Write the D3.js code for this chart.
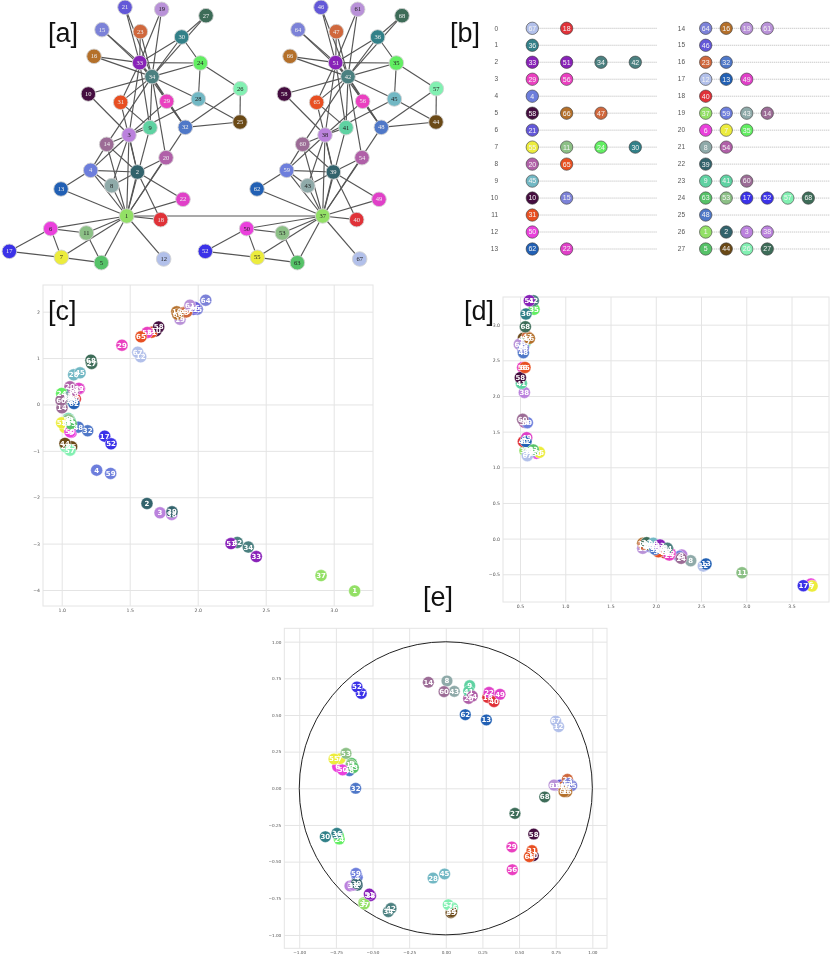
<!DOCTYPE html>
<html><head><meta charset="utf-8">
<style>html,body{margin:0;padding:0;background:#fff}svg{display:block}</style>
<script src="https://d3js.org/d3.v7.min.js"></script></head>
<body><svg id="c" width="830" height="959" xmlns="http://www.w3.org/2000/svg"></svg>
<script>
// node colours (twin ids share the colour of their partner)
const nodeColors={1:"#93e066",2:"#33636c",3:"#bb82dd",4:"#6d7edc",5:"#57c268",6:"#ea40dc",7:"#ecec3c",8:"#8faaa9",9:"#5fd2a2",10:"#45103f",11:"#8cc086",12:"#b2c0ea",13:"#2060b4",14:"#9c6c96",15:"#7c82d8",16:"#b4702c",17:"#3a30e8",18:"#e03038",19:"#b992d8",20:"#b060a8",21:"#6458d8",22:"#e040c8",23:"#d0683c",24:"#62ee62",25:"#6a4818",26:"#82f0b2",27:"#3c6c58",28:"#72b8c4",29:"#ea40c0",30:"#308088",31:"#e85020",32:"#5078c8",33:"#8820b8",34:"#4c8080"};
const twinIds={1:37,2:39,3:38,4:59,5:63,6:50,7:55,8:43,9:41,10:58,11:53,12:67,13:62,14:60,15:64,16:66,17:52,18:40,19:61,20:54,21:46,22:49,23:47,24:35,25:44,26:57,27:68,28:45,29:56,30:36,31:65,32:48,33:51,34:42};
// panel [a] layout positions
const netNodes=[[1,380,648],[2,412,516],[3,387,405],[4,272,511],[5,304,788],[6,152,686],[7,184,772],[8,335,557],[9,450,383],[10,265,282],[11,259,699],[12,491,777],[13,183,567],[14,320,433],[15,306,89],[16,282,169],[17,28,754],[18,482,659],[19,485,28],[20,498,473],[21,375,22],[22,549,598],[23,421,95],[24,601,189],[25,720,366],[26,721,266],[27,618,47],[28,595,297],[29,500,304],[30,545,111],[31,362,307],[32,556,382],[33,419,188],[34,456,230]];
const netTwinShift=588;
const netEdges=[[2,1],[3,1],[3,2],[4,1],[4,2],[4,3],[5,1],[6,1],[7,1],[7,5],[7,6],[8,1],[8,2],[8,3],[8,4],[9,1],[9,3],[10,3],[11,1],[11,5],[11,6],[12,1],[13,1],[13,4],[14,1],[14,2],[14,3],[14,4],[17,6],[17,7],[18,1],[18,2],[20,1],[20,2],[22,1],[22,2],[26,24],[26,25],[28,3],[28,24],[28,25],[29,3],[30,24],[30,27],[31,2],[31,9],[32,1],[32,25],[32,26],[32,29],[33,3],[33,9],[33,15],[33,16],[33,19],[33,21],[33,23],[33,24],[33,30],[33,31],[33,32],[34,9],[34,10],[34,14],[34,15],[34,16],[34,19],[34,20],[34,21],[34,23],[34,24],[34,27],[34,28],[34,29],[34,30],[34,31],[34,32],[34,33]];
const bridgeEdges=[[1,37]];
// panel [b] clusters
const clusterRowsLeft=[[67,18],[36],[33,51,34,42],[29,56],[4],[58,66,47],[21],[55,11,24,30],[20,65],[45],[10,15],[31],[50],[62,22]];
const clusterRowsRight=[[64,16,19,61],[46],[23,32],[12,13,49],[40],[37,59,43,14],[6,7,35],[8,54],[39],[9,41,60],[63,53,17,52,57,68],[48],[1,2,3,38],[5,44,26,27]];
// panel [c] embedding
const embedC=[[1,3.154,-4.02],[2,1.627,-2.135],[3,1.723,-2.336],[4,1.257,-1.416],[5,1.05,-0.36],[6,1.07,-0.6],[7,1.024,-0.496],[8,1.06,0.18],[9,1.049,-0.302],[10,1.693,1.586],[11,1.03,-0.38],[12,1.581,1.026],[13,1.07,0.09],[14,1.002,-0.073],[15,1.997,2.054],[16,1.846,1.996],[17,1.316,-0.683],[18,1.09,0.2],[19,1.87,1.838],[20,1.061,0.38],[21,1.968,2.054],[22,1.13,0.34],[23,1.9,1.98],[24,1.0,0.237],[25,1.073,-0.913],[26,1.029,-0.913],[27,1.22,0.884],[28,1.088,0.638],[29,1.443,1.278],[30,1.08,0.27],[31,1.662,1.558],[32,1.191,-0.568],[33,2.431,-3.28],[34,2.372,-3.075],[35,1.085,0.056],[36,1.05,0.15],[37,2.907,-3.69],[38,1.809,-2.37],[39,1.811,-2.315],[40,1.1,0.12],[41,1.061,-0.353],[42,2.291,-2.975],[43,1.04,0.12],[44,1.024,-0.84],[45,1.135,0.681],[46,1.98,2.09],[47,1.919,1.996],[48,1.122,-0.489],[49,1.125,0.344],[50,1.061,-0.59],[51,2.245,-3.0],[52,1.363,-0.849],[53,1.05,-0.33],[54,1.09,0.31],[55,1.0,-0.396],[56,1.629,1.552],[57,1.061,-0.985],[58,1.713,1.672],[59,1.36,-1.487],[60,0.995,0.093],[61,1.943,2.14],[62,1.09,0.02],[63,1.07,-0.42],[64,2.059,2.248],[65,1.583,1.457],[66,1.853,1.946],[67,1.559,1.127],[68,1.215,0.955]];
// panel [d] embedding
const embedD=[[1,2.11,-0.19],[2,2.14,-0.18],[3,2.287,-0.23],[4,2.26,-0.25],[5,2.13,-0.21],[6,3.715,-0.637],[7,3.727,-0.665],[8,2.386,-0.31],[9,2.1,-0.17],[10,1.99,-0.12],[11,2.953,-0.478],[12,2.525,-0.384],[13,2.555,-0.356],[14,2.28,-0.277],[15,1.93,-0.11],[16,1.856,-0.066],[17,3.63,-0.66],[18,2.1,-0.2],[19,1.856,-0.136],[20,2.07,-0.17],[21,1.91,-0.1],[22,2.16,-0.21],[23,1.87,-0.08],[24,2.05,-0.14],[25,1.94,-0.09],[26,1.96,-0.09],[27,1.9,-0.057],[28,1.973,-0.066],[29,2.15,-0.23],[30,2.08,-0.13],[31,2.028,-0.184],[32,1.992,-0.15],[33,2.047,-0.09],[34,2.128,-0.136],[35,0.655,3.215],[36,0.566,3.15],[37,0.555,1.233],[38,0.548,2.05],[39,0.592,1.196],[40,0.537,1.36],[41,0.515,2.178],[42,0.647,3.337],[43,0.6,1.24],[44,0.537,2.81],[45,0.537,2.71],[46,0.53,2.66],[47,0.581,2.83],[48,0.537,2.607],[49,0.574,1.416],[50,0.684,1.196],[51,0.603,3.337],[52,0.629,1.22],[53,0.592,1.243],[54,0.55,1.63],[55,0.714,1.21],[56,0.529,2.4],[57,0.56,2.75],[58,0.504,2.257],[59,0.581,1.626],[60,0.529,1.673],[61,0.493,2.725],[62,0.566,1.36],[63,0.647,1.243],[64,0.537,2.68],[65,0.555,2.4],[66,0.603,2.808],[67,0.581,1.163],[68,0.559,2.97]];
// panel [e] embedding
const embedE=[[1,-0.56,-0.78],[2,-0.604,-0.66],[3,-0.654,-0.666],[4,-0.604,-0.607],[5,-0.643,0.17],[6,-0.738,0.148],[7,-0.722,0.202],[8,0.008,0.732],[9,0.163,0.70],[10,0.597,-0.46],[11,-0.647,0.159],[12,0.77,0.42],[13,0.277,0.466],[14,-0.119,0.723],[15,0.859,0.018],[16,0.825,-0.023],[17,-0.577,0.647],[18,0.286,0.62],[19,0.75,0.02],[20,0.156,0.613],[21,0.78,0.022],[22,0.295,0.654],[23,0.83,0.061],[24,-0.727,-0.346],[25,0.035,-0.848],[26,0.047,-0.814],[27,0.472,-0.171],[28,-0.087,-0.612],[29,0.451,-0.4],[30,-0.822,-0.33],[31,0.588,-0.425],[32,-0.615,0.0],[33,-0.513,-0.732],[34,-0.392,-0.841],[35,-0.733,-0.323],[36,-0.743,-0.307],[37,-0.556,-0.789],[38,-0.63,-0.66],[39,-0.609,-0.648],[40,0.329,0.591],[41,0.156,0.663],[42,-0.374,-0.819],[43,0.058,0.661],[44,0.04,-0.841],[45,-0.008,-0.584],[46,0.813,0.011],[47,0.8,0.01],[48,-0.658,0.12],[49,0.37,0.641],[50,-0.704,0.125],[51,-0.522,-0.721],[52,-0.606,0.691],[53,-0.681,0.238],[54,0.181,0.629],[55,-0.763,0.2],[56,0.454,-0.555],[57,0.017,-0.794],[58,0.6,-0.312],[59,-0.613,-0.58],[60,-0.012,0.659],[61,0.738,0.022],[62,0.133,0.502],[63,-0.631,0.141],[64,0.836,0.034],[65,0.57,-0.466],[66,0.807,-0.023],[67,0.75,0.459],[68,0.675,-0.059]];
const ticksCx=[1,1.5,2,2.5,3], ticksCy=[-4,-3,-2,-1,0,1,2];
const ticksDx=[0.5,1,1.5,2,2.5,3,3.5], ticksDy=[-0.5,0,0.5,1,1.5,2,2.5,3];
const ticksE=[-1,-0.75,-0.5,-0.25,0,0.25,0.5,0.75,1];
const panelLabels=[["[a]",48,42],["[b]",450,42],["[c]",48,320],["[d]",464,320],["[e]",423,606]];

Object.entries(twinIds).forEach(([a,b])=>nodeColors[b]=nodeColors[a]);
const svg=d3.select("#c");
const defs=svg.append("defs");
[["blurA",0.6],["blurB",0.5],["blurS",0.42]].forEach(([id,s])=>defs.append("filter").attr("id",id).attr("x","-5%").attr("y","-5%").attr("width","110%").attr("height","110%").append("feGaussianBlur").attr("stdDeviation",s));

// ---- [a]
const netX=d3.scaleLinear().domain([0,1290]).range([0,430]);
const netY=d3.scaleLinear().domain([0,825]).range([0,275]);
const pos=new Map();
netNodes.forEach(([i,x,y])=>{pos.set(i,[x,y]);pos.set(twinIds[i],[x+netTwinShift,y]);});
const gA=svg.append("g").attr("filter","url(#blurA)");
const allEdges=netEdges.concat(netEdges.map(([a,b])=>[twinIds[a],twinIds[b]]),bridgeEdges);
gA.selectAll("line").data(allEdges).join("line")
 .attr("x1",d=>netX(pos.get(d[0])[0])).attr("y1",d=>netY(pos.get(d[0])[1]))
 .attr("x2",d=>netX(pos.get(d[1])[0])).attr("y2",d=>netY(pos.get(d[1])[1]))
 .attr("stroke","#555").attr("stroke-width",1.15);
const allNodes=[...pos.keys()].sort((a,b)=>a-b);
const txtCol=i=>d3.hcl(nodeColors[i]).l>58?"#222":"#eee";
gA.selectAll("circle").data(allNodes).join("circle")
 .attr("cx",d=>netX(pos.get(d)[0])).attr("cy",d=>netY(pos.get(d)[1])).attr("r",7.3)
 .attr("fill",d=>nodeColors[d]).attr("stroke","#d4d4d4").attr("stroke-width",0.9);
gA.selectAll("text").data(allNodes).join("text")
 .attr("x",d=>netX(pos.get(d)[0])).attr("y",d=>netY(pos.get(d)[1])+2.1)
 .attr("text-anchor","middle").attr("font-family","Liberation Serif").attr("font-size",6.5)
 .attr("fill",txtCol).text(d=>d);

// ---- [b]
const rowY=d3.scaleLinear().domain([0,13]).range([28.3,249]);
function rows(list,start,labelX,colX,lineEnd){
 const g=svg.append("g").attr("filter","url(#blurB)");
 list.forEach((members,r)=>{
  const y=rowY(r);
  g.append("text").attr("x",labelX).attr("y",y+2.2).attr("text-anchor","end").attr("font-family","Liberation Sans").attr("font-size",6.5).attr("fill","#555").text(start+r);
  g.append("line").attr("x1",colX(0)).attr("x2",lineEnd).attr("y1",y).attr("y2",y).attr("stroke","#aaa").attr("stroke-width",0.7).attr("stroke-dasharray","1.2,0.8");
  members.forEach((m,c)=>{
   g.append("circle").attr("cx",colX(c)).attr("cy",y).attr("r",6.2).attr("fill",nodeColors[m]).attr("stroke","#3a3a3a").attr("stroke-width",0.6);
   g.append("text").attr("x",colX(c)).attr("y",y+2.4).attr("text-anchor","middle").attr("font-family","Liberation Sans").attr("font-size",7).attr("fill","#f4f4f4").text(m);
  });
 });
}
rows(clusterRowsLeft,0,498,d3.scaleLinear().domain([0,3]).range([532.3,635.3]),657);
rows(clusterRowsRight,14,685,d3.scaleLinear().domain([0,5]).range([705.7,808.3]),830);

// ---- scatter panels
function scatter(o){
 const x=d3.scaleLinear().domain(o.dx).range([o.l,o.r]);
 const y=d3.scaleLinear().domain(o.dy).range([o.b,o.t]);
 const g=svg.append("g").attr("filter","url(#blurS)");
 const w=o.r-o.l,h=o.b-o.t;
 const gx=g.append("g").attr("transform",`translate(0,${o.b})`).call(d3.axisBottom(x).tickValues(o.tx).tickSize(-h).tickPadding(3).tickFormat(d3.format(o.fx)));
 const gy=g.append("g").attr("transform",`translate(${o.l},0)`).call(d3.axisLeft(y).tickValues(o.ty).tickSize(-w).tickPadding(3).tickFormat(d3.format(o.fy)));
 [gx,gy].forEach(a=>{a.select(".domain").remove();a.selectAll("line").attr("stroke","#e4e4e4").attr("stroke-width",1);
  a.selectAll("text").attr("font-family","DejaVu Sans").attr("font-size",o.fs).attr("fill","#555");});
 g.append("rect").attr("x",o.l).attr("y",o.t).attr("width",w).attr("height",h).attr("fill","none").attr("stroke","#e4e4e4").attr("stroke-width",1);
 if(o.circle) g.append("circle").attr("cx",x(0)).attr("cy",y(0)).attr("r",x(1)-x(0)).attr("fill","none").attr("stroke","#222").attr("stroke-width",1);
 g.append("g").selectAll("circle").data(o.pts).join("circle").attr("cx",d=>x(d[1])).attr("cy",d=>y(d[2])).attr("r",o.rad)
  .attr("fill",d=>nodeColors[d[0]]).attr("stroke","#fff").attr("stroke-width",0.4);
 g.append("g").selectAll("text").data(o.pts).join("text").attr("x",d=>x(d[1])).attr("y",d=>y(d[2])+2.5)
  .attr("text-anchor","middle").attr("font-family","DejaVu Sans").attr("font-weight","bold").attr("font-size",7).attr("fill","#fff").text(d=>d[0]);
}
scatter({l:43,r:373,t:285,b:606,dx:[0.8625,3.289],dy:[-4.345,2.575],tx:ticksCx,ty:ticksCy,fx:".1f",fy:"d",fs:4.6,pts:embedC,rad:6});
scatter({l:503,r:829,t:297,b:602,dx:[0.312,3.914],dy:[-0.889,3.388],tx:ticksDx,ty:ticksDy,fx:".1f",fy:".1f",fs:4.6,pts:embedD,rad:6});
scatter({l:284.3,r:607,t:628.3,b:948.3,dx:[-1.102,1.1],dy:[-1.091,1.091],tx:ticksE,ty:ticksE,fx:".2f",fy:".2f",fs:4.2,pts:embedE,rad:5.8,circle:true});

// ---- panel letters
svg.append("g").selectAll("text").data(panelLabels).join("text").attr("x",d=>d[1]).attr("y",d=>d[2])
 .attr("font-family","Liberation Sans").attr("font-size",27).attr("fill","#111").text(d=>d[0]);
</script></body></html>
